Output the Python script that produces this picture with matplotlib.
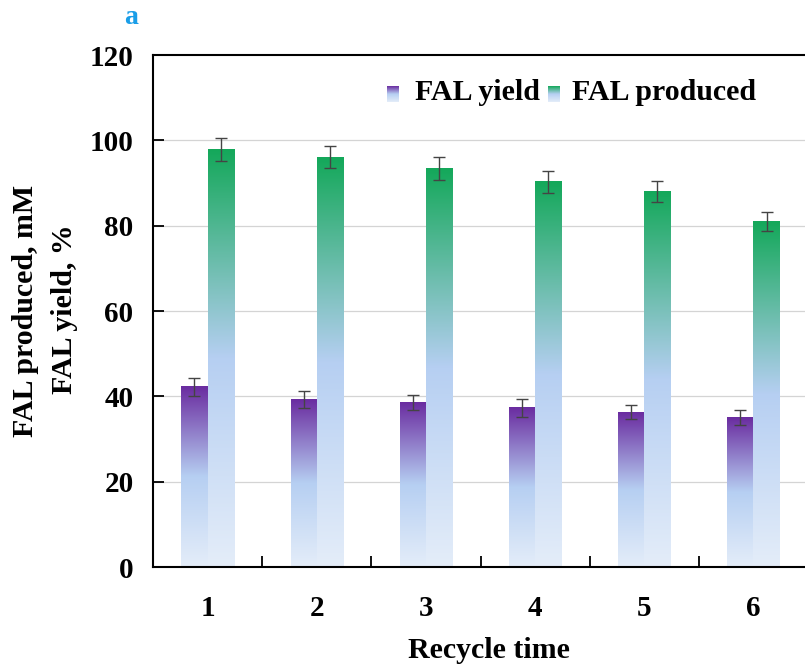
import numpy as np
import matplotlib.pyplot as plt
from matplotlib.colors import LinearSegmentedColormap

W, H, DPI = 805, 671, 100

cycles = ["1", "2", "3", "4", "5", "6"]
yield_pct = [42.2, 39.2, 38.6, 37.3, 36.3, 35.0]
yield_err = [2.1, 2.0, 1.8, 2.1, 1.7, 1.7]
produced_mM = [97.8, 96.0, 93.5, 90.3, 88.0, 81.0]
produced_err = [2.7, 2.6, 2.7, 2.6, 2.5, 2.2]

PALE = "#e4edf9"
BLUE = "#b6cff2"
PURPLE = "#6a2ca0"
GREEN = "#14a85a"
FONT = "Liberation Serif"

plt.rcParams["font.family"] = [FONT, "DejaVu Serif"]
plt.rcParams["font.weight"] = "bold"

cm_purple = LinearSegmentedColormap.from_list("p", [(0, PALE), (0.5, BLUE), (1, PURPLE)])
cm_green = LinearSegmentedColormap.from_list("g", [(0, PALE), (0.5, BLUE), (1, GREEN)])
grad = np.linspace(0, 1, 256).reshape(-1, 1)


def px(x, y):
    return x / W, 1 - y / H


fig = plt.figure(figsize=(W / DPI, H / DPI), dpi=DPI)
x0, y0 = px(153, 567)
x1, y1 = px(808, 55)
ax = fig.add_axes([x0, y0, x1 - x0, y1 - y0])

x = np.arange(len(cycles))
bw = 0.24
for i in x:
    for off, val, cm in ((-bw / 2, yield_pct[i], cm_purple), (bw / 2, produced_mM[i], cm_green)):
        ax.imshow(grad, cmap=cm, origin="lower", aspect="auto",
                  extent=[i + off - bw / 2, i + off + bw / 2, 0, val], zorder=2)

ax.errorbar(x - bw / 2, yield_pct, yerr=yield_err, fmt="none", ecolor="#444444",
            elinewidth=1, capsize=4, capthick=1, zorder=3)
ax.errorbar(x + bw / 2, produced_mM, yerr=produced_err, fmt="none", ecolor="#444444",
            elinewidth=1, capsize=4, capthick=1, zorder=3)

ax.set_xlim(-0.5, len(cycles) - 0.5)
ax.set_ylim(0, 120)
ax.set_yticks(np.arange(0, 121, 20))
for v in range(20, 120, 20):
    ax.axhline(v, color="#d4d4d4", lw=0.9, zorder=1)

ax.set_xticks(np.arange(0.5, len(cycles) - 0.5, 1))
ax.set_xticklabels([])
ax.set_xticks(x, minor=True)
ax.set_xticklabels(cycles, minor=True)
ax.tick_params(axis="x", which="major", direction="in", length=8, width=1.3)
ax.tick_params(axis="x", which="minor", length=0, pad=20, labelsize=21)
ax.tick_params(axis="y", direction="in", length=8, width=1.3, pad=14, labelsize=21)
for s in ax.spines.values():
    s.set_linewidth(1.5)

# y label (two lines, anchored at their baselines), x label, panel letter
fig.text(*px(33, 311), "FAL produced, mM", rotation=90, rotation_mode="anchor",
         ha="center", va="baseline", fontsize=21.5, fontweight="bold")
fig.text(*px(72, 309), "FAL yield, %", rotation=90, rotation_mode="anchor",
         ha="center", va="baseline", fontsize=21.5, fontweight="bold")
fig.text(*px(489, 650), "Recycle time", ha="center", va="center",
         fontsize=21.5, fontweight="bold")
fig.text(*px(131, 17), "a", ha="center", va="center", fontsize=20,
         fontweight="bold", color="#1a9ee8")

# legend with gradient swatches
for (sx, cm, label, tx) in ((387, cm_purple, "FAL yield", 415),
                            (548, cm_green, "FAL produced", 572)):
    lx, ly = px(sx, 102)
    sw = fig.add_axes([lx, ly, 12 / W, 16 / H])
    sw.imshow(grad, cmap=cm, origin="lower", aspect="auto")
    sw.axis("off")
    fig.text(*px(tx, 93), label, ha="left", va="center", fontsize=21.5, fontweight="bold")

fig.savefig("out.png", dpi=DPI)
